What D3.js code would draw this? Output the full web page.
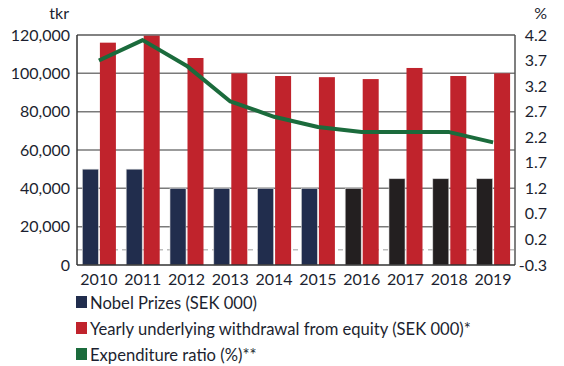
<!DOCTYPE html>
<html>
<head>
<meta charset="utf-8">
<script src="https://cdn.jsdelivr.net/npm/d3@7"></script>
<style>
  body { margin: 0; background: #fff; }
  text { font-family: Lato, "Open Sans", sans-serif; fill: #1c1f30; }
</style>
</head>
<body>
<div id="chart"></div>
<script>
//chart data
var years = ["2010","2011","2012","2013","2014","2015","2016","2017","2018","2019"];
var prizes = [50000, 50000, 40000, 40000, 40000, 40000, 40000, 45000, 45000, 45000];
var withdrawal = [116000, 120000, 108000, 100000, 98600, 98000, 97000, 102800, 98600, 100000];
var ratio = [3.7, 4.1, 3.6, 2.9, 2.6, 2.4, 2.3, 2.3, 2.3, 2.1];
var leftTicks = [0, 20000, 40000, 60000, 80000, 100000, 120000];
var rightTicks = [-0.3, 0.2, 0.7, 1.2, 1.7, 2.2, 2.7, 3.2, 3.7, 4.2];
var legendItems = ["Nobel Prizes (SEK 000)", "Yearly underlying withdrawal from equity (SEK 000)*", "Expenditure ratio (%)**"];

var width = 564, height = 366;
var margin = { top: 35, right: 49, bottom: 101, left: 77 };
var w = width - margin.left - margin.right;
var h = height - margin.top - margin.bottom;

var navy = '#212d4d', black = '#231f20', red = '#c0232c', green = '#1b6b3c';

var svg = d3.select('#chart').append('svg')
	.attr('width', width)
	.attr('height', height);

var plot = svg.append('g')
	.attr('transform', 'translate(' + margin.left + ',' + margin.top + ')');

//scales
var x = d3.scaleBand().domain(years).range([0, w]);
var yL = d3.scaleLinear().domain([0, 120000]).range([h, 0]);
var yR = d3.scaleLinear().domain([-0.3, 4.2]).range([h, 0]);

//gridlines
plot.append('g').selectAll('line')
	.data(leftTicks.slice(1))
	.enter().append('line')
	.attr('x1', 0).attr('x2', w)
	.attr('y1', function(d) { return yL(d); })
	.attr('y2', function(d) { return yL(d); })
	.style('stroke', '#7a7a7a')
	.style('stroke-width', 1.5);

//zero line for the ratio axis
plot.append('line')
	.attr('x1', 0).attr('x2', w)
	.attr('y1', yR(0)).attr('y2', yR(0))
	.style('stroke', '#bdbdbd')
	.style('stroke-width', 1.5)
	.style('stroke-dasharray', '5,4');

var bw = 16;
//prize bars
plot.append('g').selectAll('rect')
	.data(prizes)
	.enter().append('rect')
	.attr('x', function(d, i) { return x(years[i]) + x.bandwidth() / 2 - bw - 0.5; })
	.attr('y', function(d) { return yL(d); })
	.attr('width', bw)
	.attr('height', function(d) { return h - yL(d); })
	.style('fill', function(d, i) { return i < 6 ? navy : black; })
	.style('stroke', '#d8d8d8')
	.style('stroke-width', 0.6);

//withdrawal bars
plot.append('g').selectAll('rect')
	.data(withdrawal)
	.enter().append('rect')
	.attr('x', function(d, i) { return x(years[i]) + x.bandwidth() / 2 + 1; })
	.attr('y', function(d) { return yL(d); })
	.attr('width', bw)
	.attr('height', function(d) { return h - yL(d); })
	.style('fill', red);

//frame: top and right gray, left and bottom dark
plot.append('line').attr('x1', 0).attr('x2', w).attr('y1', 0).attr('y2', 0)
	.style('stroke', '#7a7a7a').style('stroke-width', 1.5);
plot.append('line').attr('x1', w).attr('x2', w).attr('y1', 0).attr('y2', h)
	.style('stroke', '#555').style('stroke-width', 1.5);
plot.append('line').attr('x1', 0).attr('x2', 0).attr('y1', 0).attr('y2', h)
	.style('stroke', '#333').style('stroke-width', 1.5);
plot.append('line').attr('x1', 0).attr('x2', w).attr('y1', h).attr('y2', h)
	.style('stroke', '#333').style('stroke-width', 1.5);

//ratio line
var line = d3.line()
	.x(function(d, i) { return x(years[i]) + x.bandwidth() / 2; })
	.y(function(d) { return yR(d); });

plot.append('path')
	.datum(ratio)
	.attr('d', line)
	.style('fill', 'none')
	.style('stroke', green)
	.style('stroke-width', 4)
	.style('stroke-linejoin', 'round');

//axis labels
var fmt = d3.format(',');
plot.append('g').selectAll('text')
	.data(leftTicks)
	.enter().append('text')
	.attr('x', -7)
	.attr('y', function(d) { return yL(d); })
	.attr('dy', '0.35em')
	.attr('text-anchor', 'end')
	.style('font-size', '16px')
	.text(function(d) { return fmt(d); });

plot.append('g').selectAll('text')
	.data(rightTicks)
	.enter().append('text')
	.attr('x', w + 32)
	.attr('y', function(d) { return yR(d); })
	.attr('dy', '0.35em')
	.attr('text-anchor', 'end')
	.style('font-size', '16px')
	.text(function(d) { return d.toFixed(1); });

plot.append('g').selectAll('text')
	.data(years)
	.enter().append('text')
	.attr('x', function(d) { return x(d) + x.bandwidth() / 2; })
	.attr('y', h + 20)
	.attr('text-anchor', 'middle')
	.style('font-size', '16px')
	.text(function(d) { return d; });

svg.append('text')
	.attr('x', 69).attr('y', 19)
	.attr('text-anchor', 'end')
	.style('font-size', '16px')
	.text('tkr');

svg.append('text')
	.attr('x', 547).attr('y', 19)
	.attr('text-anchor', 'end')
	.style('font-size', '16px')
	.text('%');

//legend
var legend = svg.append('g')
	.attr('transform', 'translate(76,296)');

var legColors = [navy, red, green];
legend.selectAll('rect')
	.data(legendItems)
	.enter().append('rect')
	.attr('x', 0)
	.attr('y', function(d, i) { return i * 26; })
	.attr('width', 11)
	.attr('height', 12)
	.style('fill', function(d, i) { return legColors[i]; });

legend.selectAll('text')
	.data(legendItems)
	.enter().append('text')
	.attr('x', 14)
	.attr('y', function(d, i) { return i * 26 + 12.5; })
	.style('font-size', '16.6px')
	.text(function(d) { return d; });
</script>
</body>
</html>
